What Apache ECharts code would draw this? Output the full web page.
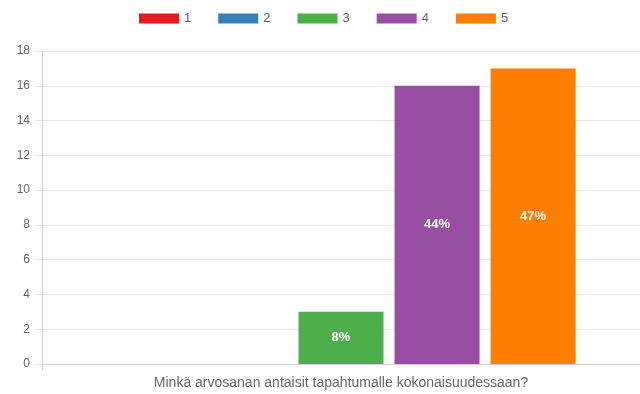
<!DOCTYPE html>
<html>
<head>
<meta charset="utf-8">
<script src="https://cdn.jsdelivr.net/npm/echarts@6/dist/echarts.min.js"></script>
<style>html,body{margin:0;padding:0;background:#fff}#c{width:640px;height:394px}</style>
</head>
<body>
<div id="c"></div>
<script>
const categories = ['Minkä arvosanan antaisit tapahtumalle kokonaisuudessaan?'];
const seriesNames = ['1', '2', '3', '4', '5'];
const seriesValues = [0, 0, 3, 16, 17];
const percentLabels = ['', '', '8%', '44%', '47%'];
const seriesColors = ['#e41a1c', '#377eb8', '#4daf4a', '#984ea3', '#ff7f00'];
const yTicks = { min: 0, max: 18, interval: 2 };

const chart = echarts.init(document.getElementById('c'));
const font = 'Liberation Sans, Arial, sans-serif';
chart.setOption({
  animation: false,
  textStyle: { fontFamily: font },
  legend: {
    left: 139, top: 12, padding: 0,
    itemWidth: 40, itemHeight: 10, itemGap: 27,
    icon: 'rect',
    textStyle: { color: '#666', fontSize: 13, fontFamily: font },
    data: seriesNames
  },
  grid: { left: 42, right: 0, top: 51, bottom: 30, containLabel: false },
  xAxis: {
    type: 'category',
    data: categories,
    axisLine: { show: true, lineStyle: { color: '#d0d0d0' } },
    axisTick: { show: true, length: 6, lineStyle: { color: '#d0d0d0' } },
    axisLabel: { color: '#666', fontSize: 14, margin: 12, fontFamily: font },
    splitLine: { show: false }
  },
  yAxis: {
    type: 'value',
    min: yTicks.min, max: yTicks.max, interval: yTicks.interval,
    axisLine: { show: true, lineStyle: { color: '#d0d0d0' } },
    axisTick: { show: true, length: 7, lineStyle: { color: '#e6e6e6' } },
    axisLabel: { color: '#666', fontSize: 12, margin: 12, fontFamily: font },
    splitLine: { show: true, lineStyle: { color: '#e6e6e6' } }
  },
  series: seriesNames.map((name, i) => ({
    name: name,
    type: 'bar',
    data: [seriesValues[i]],
    barWidth: 85,
    barGap: '13%',
    itemStyle: { color: seriesColors[i] },
    label: {
      show: percentLabels[i] !== '',
      position: 'inside',
      formatter: () => percentLabels[i],
      color: '#fff',
      fontWeight: 'bold',
      fontSize: 13,
      fontFamily: font
    }
  }))
});
</script>
</body>
</html>
